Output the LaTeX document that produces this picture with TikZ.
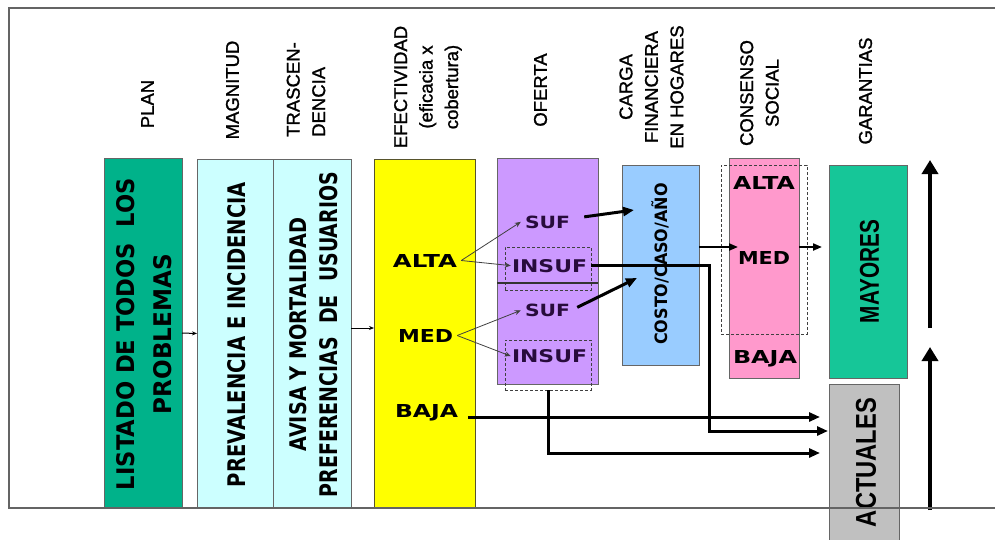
\documentclass[tikz,border=0pt]{standalone}
\usepackage{fontspec}
\usepackage{graphicx}
\setmainfont{Liberation Sans}
\newfontfamily\boxfont{DejaVu Sans}
\newfontfamily\hdrfont{Liberation Sans}[BoldFont={Liberation Sans}, BoldFeatures={FakeBold=1.2}]
\usetikzlibrary{arrows.meta}
\definecolor{plangreen}{RGB}{0,178,138}
\definecolor{maygreen}{RGB}{22,198,152}
\definecolor{lcyan}{RGB}{204,255,255}
\definecolor{ylw}{RGB}{255,255,0}
\definecolor{purp}{RGB}{204,153,255}
\definecolor{lblue}{RGB}{153,204,255}
\definecolor{pinkbox}{RGB}{255,153,204}
\definecolor{grybox}{RGB}{192,192,192}
\definecolor{framecol}{RGB}{100,100,100}
\definecolor{purptext}{RGB}{40,12,60}
\newcommand{\fitto}[3]{\resizebox{#1pt}{#2pt}{#3}}
\begin{document}
\begin{tikzpicture}[x=1pt,y=-1pt,
  box/.style={draw=black!60, line width=0.8pt, inner sep=0pt, outer sep=0pt},
  hdr/.style={rotate=90, align=center, inner sep=0pt, font=\hdrfont\bfseries\fontsize{18.5}{25.5}\selectfont},
  btxt/.style={inner sep=0pt, font=\boxfont\bfseries},
  dbox/.style={draw=black!75, dash pattern=on 3pt off 2pt, line width=0.8pt, inner sep=0pt},
  thinarr/.style={draw=black!75, line width=0.8pt, -{Stealth[length=6pt,width=5pt]}},
  smallarr/.style={draw=black, line width=1pt, -{Stealth[length=5pt,width=4pt]}},
  medarr/.style={draw=black, line width=2pt, -{Triangle[length=9pt,width=7pt]}},
  thickarr/.style={draw=black, line width=3pt, -{Triangle[length=11pt,width=9pt]}},
  bigarr/.style={draw=black, line width=4.5pt, -{Triangle[length=14pt,width=16pt]}}
]
\useasboundingbox (0,0) rectangle (995,539);
\clip (0,0) rectangle (995,539);

% headers
\node[hdr] (hplan) at (147.5,104) {PLAN};
\node[hdr] (hmag) at (232.5,90) {MAGNITUD};
\node[hdr, align=left, anchor=west] (htras) at (306,137) {TRASCEN-\\DENCIA};
\node[hdr] (hefec) at (428,87) {EFECTIVIDAD\\(eficacia x\\cobertura)};
\node[hdr] (hofer) at (540.5,90) {OFERTA};
\node[hdr] (hcarga) at (651.5,87) {CARGA\\FINANCIERA\\EN HOGARES};
\node[hdr] (hcons) at (759.5,93) {CONSENSO\\SOCIAL};
\node[hdr] (hgar) at (865.5,91) {GARANTIAS};

% boxes
\node[box, fill=plangreen, minimum width=78pt, minimum height=350pt] (plan) at (143,333) {};
\node[box, fill=lcyan, minimum width=76pt, minimum height=349pt] (mag) at (235,333.5) {};
\node[box, fill=lcyan, minimum width=78pt, minimum height=349pt] (tras) at (312,333.5) {};
\node[box, draw=black!50!olive, fill=ylw, minimum width=101pt, minimum height=349pt] (efec) at (424.5,333.5) {};
\node[box, fill=purp, minimum width=101pt, minimum height=226pt] (ofer) at (547.5,271) {};
\node[box, fill=lblue, minimum width=77pt, minimum height=200pt] (costo) at (660.5,265) {};
\node[box, fill=pinkbox, minimum width=70pt, minimum height=220pt] (cons) at (764,268) {};
\node[box, fill=maygreen, minimum width=78pt, minimum height=213pt] (may) at (868,271.5) {};
\node[box, fill=grybox, minimum width=70pt, minimum height=157pt] (act) at (864,462.5) {};

% dashed boxes and divider
\node[dbox, minimum width=86pt, minimum height=43pt] (d1) at (548,268.5) {};
\node[dbox, minimum width=86pt, minimum height=50pt] (d2) at (548,365) {};
\node[dbox, minimum width=86pt, minimum height=169pt] (d3) at (764,249.5) {};
\coordinate (divy) at (0,283);
\draw[line width=2.5pt, black!80] (ofer.west |- divy) -- (ofer.east |- divy);

% box texts
\node[btxt, rotate=90, align=center, font=\boxfont\bfseries\fontsize{20}{37}\selectfont] (planT) at (144,334)
  {\fitto{312}{18}{LISTADO DE TODOS\ \ LOS}\\\fitto{160}{18}{PROBLEMAS}};
\node[btxt, rotate=90] (magT) at (237,334.5) {\fitto{305}{18}{PREVALENCIA E INCIDENCIA}};
\node[btxt, rotate=90, align=center, font=\boxfont\bfseries\fontsize{20}{31}\selectfont] (trasT) at (314,334.5)
  {\fitto{234}{17}{AVISA Y MORTALIDAD}\\\fitto{325}{18}{PREFERENCIAS\ \ DE\ \ USUARIOS}};

\node[btxt, anchor=base] (altaT) at (425,267) {\fitto{64}{13}{ALTA}};
\node[btxt, anchor=base] (medT) at (425.5,342) {\fitto{55}{13}{MED}};
\node[btxt, anchor=base] (bajaT) at (426.5,417) {\fitto{63}{13}{BAJA}};

\node[btxt, anchor=base, text=purptext] (sufU) at (547.5,228) {\fitto{45}{12.5}{SUF}};
\node[btxt, anchor=base, text=purptext] (insU) at (549.5,272) {\fitto{75}{13}{INSUF}};
\node[btxt, anchor=base, text=purptext] (sufL) at (547.5,316.5) {\fitto{45}{12.5}{SUF}};
\node[btxt, anchor=base, text=purptext] (insL) at (549.5,362.5) {\fitto{75}{13}{INSUF}};

\node[btxt, rotate=90] (costoT) at (660,264) {\scalebox{0.94}[1]{\fontsize{17}{20}\selectfont COSTO/CASO/AÑO}};

\node[btxt, anchor=base] (consA) at (764,189) {\fitto{62}{13}{ALTA}};
\node[btxt, anchor=base] (consM) at (764,264) {\fitto{52}{13}{MED}};
\node[btxt, anchor=base] (consB) at (765,363) {\fitto{64}{13}{BAJA}};

\node[rotate=90, inner sep=0pt, font=\bfseries] (mayT) at (869.5,271.5) {\fitto{103}{19}{MAYORES}};
\node[rotate=90, inner sep=0pt, font=\bfseries] (actT) at (866,462.5) {\fitto{129}{20}{ACTUALES}};

% connectors
\draw[smallarr] (plan.east) -- (mag.west);
\draw[smallarr] ([yshift=5.5pt]tras.east) -- ([yshift=5.5pt]efec.west);

\coordinate (aF) at ([xshift=4pt]altaT.east);
\draw[thinarr] (aF) -- ([xshift=-4pt]sufU.west);
\draw[thinarr] (aF) -- ([xshift=-1pt]insU.west);
\coordinate (mF) at ([xshift=4pt]medT.east);
\draw[thinarr] (mF) -- ([xshift=-4pt]sufL.west);
\draw[thinarr] (mF) -- ([xshift=-1pt]insL.west);

\coordinate (ci1) at (634,210);
\coordinate (ci2) at (637,278);
\draw[thickarr] ([shift={(14,-5)}]sufU.east) -- (ci1);
\draw[thickarr] ([shift={(7,-3)}]sufL.east) -- (ci2);

\coordinate (mi) at (738,247);
\draw[medarr] (costo.east |- mi) -- (mi);
\draw[medarr, shorten >=7pt] (cons.east |- mi) -- (may.west |- mi);

\coordinate (k1) at (709,431);
\draw[thickarr] ([xshift=4pt]insU.east) -| (k1) -- ([xshift=-1pt]act.west |- k1);
\draw[thickarr, shorten >=9pt] ([xshift=10pt]bajaT.base east) -- (act.west |- bajaT.base east);
\coordinate (k3) at (548,453);
\draw[thickarr, shorten >=9pt] (d2.south) |- (act.west |- k3);

\coordinate (u1a) at (930,328);
\coordinate (u1b) at (930,160);
\coordinate (u2a) at (930,510);
\coordinate (u2b) at (930,347);
\draw[bigarr] (u1a) -- (u1b);
\draw[bigarr] (u2a) -- (u2b);

% frame
\draw[framecol, line width=1.3pt] (996,8) -- (9,8) -- (9,508) -- (996,508);
\end{tikzpicture}
\end{document}
